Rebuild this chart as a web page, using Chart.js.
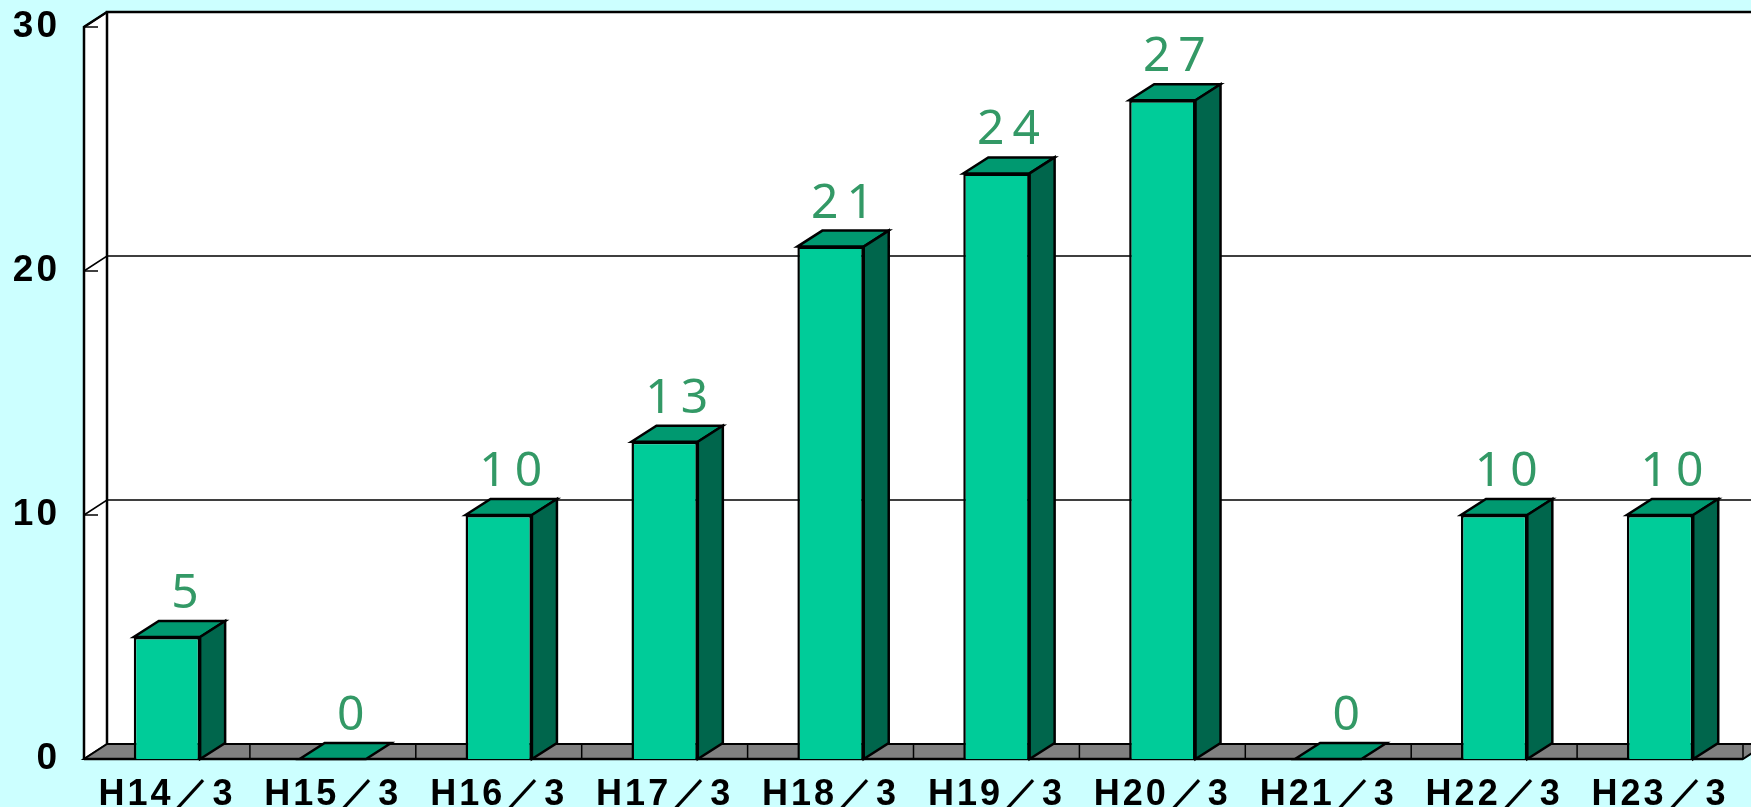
<!DOCTYPE html>
<html>
<head>
<meta charset="utf-8">
<script src="https://cdn.jsdelivr.net/npm/chart.js@4.4.0/dist/chart.umd.min.js"></script>
<style>
  html, body { margin: 0; padding: 0; background: #ccffff; }
  canvas { display: block; }
</style>
</head>
<body>
<canvas id="grafico1" width="1751" height="807"></canvas>
<script>
// datos del grafico
var etiquetas = ['H14／3', 'H15／3', 'H16／3', 'H17／3', 'H18／3', 'H19／3', 'H20／3', 'H21／3', 'H22／3', 'H23／3'];
var valores = [5, 0, 10, 13, 21, 24, 27, 0, 10, 10];
var ticksY = [0, 10, 20, 30];

// profundidad del efecto 3D
var DX = 23, DY = 15;     // paredes
var BDX = 25, BDY = 16;   // barras

// paredes, suelo y lineas de la cuadricula
var fondo3d = {
  id: 'fondo3d',
  beforeDraw: function(chart) {
    // espaciado de letras para las etiquetas de los ejes
    chart.ctx.letterSpacing = '3px';
  },
  beforeDatasetsDraw: function(chart) {
    var ctx = chart.ctx, a = chart.chartArea;
    var x = chart.scales.x, y = chart.scales.y;
    var W = chart.width + 40;
    ctx.letterSpacing = '0px';
    ctx.save();
    ctx.lineJoin = 'miter';

    // pared del fondo
    ctx.fillStyle = '#ffffff';
    ctx.fillRect(a.left + DX, a.top - DY, W, a.bottom - a.top);
    // pared lateral
    ctx.beginPath();
    ctx.moveTo(a.left, a.top);
    ctx.lineTo(a.left + DX, a.top - DY);
    ctx.lineTo(a.left + DX, a.bottom - DY);
    ctx.lineTo(a.left, a.bottom);
    ctx.closePath();
    ctx.fill();

    // cuadricula
    ctx.strokeStyle = '#000';
    ctx.lineWidth = 1.5;
    ticksY.forEach(function(v) {
      var py = y.getPixelForValue(v);
      ctx.beginPath();
      ctx.moveTo(a.left, py);
      ctx.lineTo(a.left + DX, py - DY);
      ctx.lineTo(W, py - DY);
      ctx.stroke();
      // marca
      ctx.beginPath();
      ctx.moveTo(a.left, py);
      ctx.lineTo(a.left + 14, py);
      ctx.stroke();
    });

    // bordes de las paredes
    ctx.lineWidth = 2.5;
    ctx.beginPath();
    ctx.moveTo(a.left + DX, a.bottom - DY);
    ctx.lineTo(a.left + DX, a.top - DY);
    ctx.lineTo(W, a.top - DY);
    ctx.stroke();
    ctx.beginPath();
    ctx.moveTo(a.left, a.bottom);
    ctx.lineTo(a.left, a.top);
    ctx.lineTo(a.left + DX, a.top - DY);
    ctx.stroke();

    // suelo
    ctx.fillStyle = '#808080';
    ctx.beginPath();
    ctx.moveTo(a.left, a.bottom);
    ctx.lineTo(a.right, a.bottom);
    ctx.lineTo(a.right + DX, a.bottom - DY);
    ctx.lineTo(a.left + DX, a.bottom - DY);
    ctx.closePath();
    ctx.fill();
    ctx.lineWidth = 2;
    ctx.stroke();
    // divisiones del suelo
    ctx.lineWidth = 1.5;
    for (var i = 0; i <= etiquetas.length; i++) {
      var bx = x.getPixelForValue(i - 0.5);
      ctx.beginPath();
      ctx.moveTo(bx, a.bottom);
      ctx.lineTo(bx, a.bottom - DY);
      ctx.stroke();
    }
    ctx.lineWidth = 2.5;
    ctx.beginPath();
    ctx.moveTo(a.left, a.bottom);
    ctx.lineTo(a.right, a.bottom);
    ctx.stroke();
    ctx.restore();
  },
  afterDatasetsDraw: function(chart) {
    var ctx = chart.ctx;
    var meta = chart.getDatasetMeta(0);
    ctx.save();
    ctx.strokeStyle = '#000';
    ctx.lineWidth = 2.5;
    ctx.lineJoin = 'miter';
    meta.data.forEach(function(bar, i) {
      var p = bar.getProps(['x', 'y', 'base', 'width'], true);
      var l = p.x - p.width / 2, r = p.x + p.width / 2;
      // cara superior
      ctx.fillStyle = '#009970';
      ctx.beginPath();
      ctx.moveTo(l, p.y);
      ctx.lineTo(r, p.y);
      ctx.lineTo(r + BDX, p.y - BDY);
      ctx.lineTo(l + BDX, p.y - BDY);
      ctx.closePath();
      ctx.fill();
      ctx.stroke();
      // cara lateral
      if (p.base - p.y > 0.5) {
        ctx.fillStyle = '#00664c';
        ctx.beginPath();
        ctx.moveTo(r, p.y);
        ctx.lineTo(r + BDX, p.y - BDY);
        ctx.lineTo(r + BDX, p.base - BDY);
        ctx.lineTo(r, p.base);
        ctx.closePath();
        ctx.fill();
        ctx.stroke();
      }
      // etiqueta del valor
      var txt = String(valores[i]);
      ctx.fillStyle = '#339966';
      ctx.font = '48px "Noto Sans"';
      ctx.letterSpacing = '8px';
      ctx.textAlign = 'center';
      ctx.textBaseline = 'alphabetic';
      ctx.fillText(txt, p.x + (txt.length > 1 ? 16 : 22), p.y - BDY - 13);
    });
    ctx.restore();
  }
};

const ctx = document.getElementById('grafico1').getContext('2d');
window.grafica = new Chart(ctx, {
  type: 'bar',
  data: {
    labels: etiquetas,
    datasets: [{
      data: valores,
      backgroundColor: '#00cc99',
      borderColor: '#000',
      borderWidth: function(c) { return c.raw === 0 ? 0 : 2.5; },
      borderSkipped: 'bottom',
      categoryPercentage: 1,
      barPercentage: 0.4
    }]
  },
  options: {
    responsive: false,
    animation: false,
    layout: { padding: { top: 27, right: 8, left: 0, bottom: 0 } },
    plugins: { legend: { display: false }, tooltip: { enabled: false } },
    scales: {
      x: {
        grid: { display: false },
        border: { display: false },
        ticks: {
          color: '#000',
          font: { family: '"Liberation Sans"', weight: 'bold', size: 36 },
          padding: 6,
          maxRotation: 0,
          autoSkip: false
        },
        afterFit: function(s) {
          s.height = 48;
          s.paddingLeft = 0; s.paddingRight = 0;
        }
      },
      y: {
        min: 0,
        max: 30,
        grid: { display: false, drawTicks: false },
        border: { display: false },
        ticks: {
          stepSize: 10,
          color: '#000',
          padding: 24,
          font: { family: '"Liberation Sans"', weight: 'bold', size: 37 }
        },
        afterFit: function(s) {
          s.width = 84;
          s.paddingTop = 0; s.paddingBottom = 0;
        }
      }
    }
  },
  plugins: [fondo3d]
});
</script>
</body>
</html>
